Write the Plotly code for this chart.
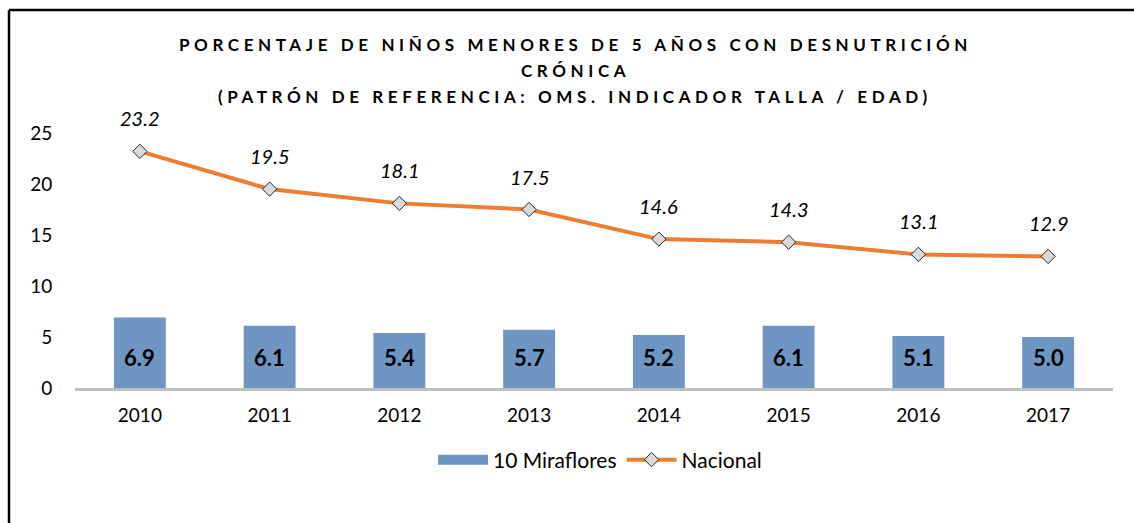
import plotly.graph_objects as go

years = [2010, 2011, 2012, 2013, 2014, 2015, 2016, 2017]
miraflores = [6.9, 6.1, 5.4, 5.7, 5.2, 6.1, 5.1, 5.0]
nacional = [23.2, 19.5, 18.1, 17.5, 14.6, 14.3, 13.1, 12.9]
y_ticks = [0, 5, 10, 15, 20, 25]
title_lines = ["PORCENTAJE DE NIÑOS MENORES DE 5 AÑOS CON DESNUTRICIÓN",
               "CRÓNICA",
               "(PATRÓN DE REFERENCIA: OMS. INDICADOR TALLA / EDAD)"]

FONT = "Lato"
BAR_COLOR = "#6F95C3"
LINE_COLOR = "#ED7D31"

fig = go.Figure()
fig.add_trace(go.Bar(
    x=years, y=miraflores, name="10 Miraflores",
    marker=dict(color=BAR_COLOR, line=dict(width=0)),
    width=0.4, showlegend=False, legendgroup="m",
))
# legend entry for the bars (wide rectangle swatch like the reference)
fig.add_trace(go.Scatter(
    x=[None], y=[None], name="10 Miraflores", mode="lines", legendgroup="m",
    line=dict(color=BAR_COLOR, width=14),
))
fig.add_trace(go.Scatter(
    x=years, y=nacional, name="Nacional", mode="lines+markers",
    line=dict(color=LINE_COLOR, width=4),
    marker=dict(symbol="diamond", size=11, color="#D9D9D9",
                line=dict(color="#262626", width=1)),
))

for x, v in zip(years, nacional):
    fig.add_annotation(x=x, y=v, text=f"<i>{v:.1f}</i>", showarrow=False,
                       yshift=33, font=dict(family=FONT, size=20, color="#000000"))
for x, v in zip(years, miraflores):
    fig.add_annotation(x=x, y=0, text=f"<b>{v:.1f}</b>", showarrow=False,
                       yshift=31, font=dict(family=FONT, size=22, color="#000000"))

for i, line in enumerate(title_lines):
    fig.add_annotation(xref="paper", yref="paper", x=(575 - 75) / 1038,
                       y=(388 - (45 + 25.5 * i)) / 255,
                       yanchor="middle", xanchor="center", showarrow=False,
                       text=f'<b><span style="letter-spacing:4.6px">{line}</span></b>',
                       font=dict(family=FONT, size=17, color="#000000"))

# outer frame (top and left edges visible)
fig.add_shape(type="line", xref="paper", yref="paper",
              x0=(9 - 75) / 1038, x1=(1134 - 75) / 1038,
              y0=(388 - 10) / 255, y1=(388 - 10) / 255,
              line=dict(color="#000000", width=2.5))
fig.add_shape(type="line", xref="paper", yref="paper",
              x0=(9 - 75) / 1038, x1=(9 - 75) / 1038,
              y0=(388 - 10) / 255, y1=(388 - 530) / 255,
              line=dict(color="#000000", width=2.5))

fig.update_layout(
    width=1134, height=523,
    margin=dict(l=75, r=21, t=133, b=135),
    paper_bgcolor="white", plot_bgcolor="white",
    font=dict(family=FONT, size=19, color="#000000"),
    showlegend=True,
    legend=dict(orientation="h", x=(600 - 75) / 1038, xanchor="center",
                y=(388 - 460) / 255, yanchor="middle",
                font=dict(family=FONT, size=21, color="#000000"),
                itemwidth=50, tracegroupgap=0),
    xaxis=dict(range=[years[0] - 0.5, years[-1] + 0.5], tickvals=years,
               showline=True, linecolor="#BFBFBF", linewidth=3,
               showgrid=False, zeroline=False, ticks="outside", tickcolor="white",
               ticklen=8, tickfont=dict(size=19)),
    yaxis=dict(range=[0, 25], tickvals=y_ticks, showgrid=False,
               zeroline=False, showline=False, ticks="outside",
               tickcolor="white", ticklen=18, tickfont=dict(size=19)),
)

fig.write_html("out.html", post_script="document.body.style.margin='0px';",
               config={"displayModeBar": False})
